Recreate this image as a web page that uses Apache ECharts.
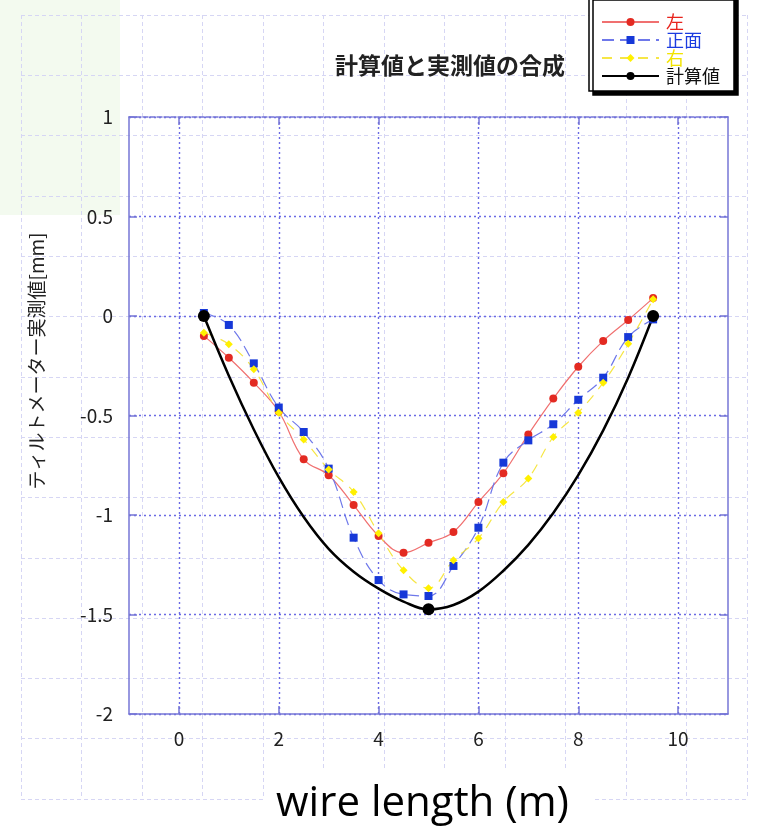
<!DOCTYPE html>
<html>
<head>
<meta charset="utf-8">
<script src="https://cdn.jsdelivr.net/npm/echarts@6/dist/echarts.min.js"></script>
<style>
html,body{margin:0;padding:0;background:#fff;}
#chart{width:770px;height:827px;}
</style>
</head>
<body>
<div id="chart"></div>
<script>
// ---- data ----
const xPositions = [0.5, 1, 1.5, 2, 2.5, 3, 3.5, 4, 4.5, 5, 5.5, 6, 6.5, 7, 7.5, 8, 8.5, 9, 9.5];
const leftValues  = [-0.10, -0.21, -0.335, -0.48, -0.72, -0.80, -0.95, -1.105, -1.19, -1.14, -1.085, -0.935, -0.79, -0.595, -0.415, -0.255, -0.125, -0.02, 0.09];
const frontValues = [0.015, -0.045, -0.238, -0.46, -0.583, -0.767, -1.114, -1.327, -1.399, -1.407, -1.256, -1.064, -0.737, -0.625, -0.544, -0.421, -0.31, -0.106, -0.017];
const rightValues = [-0.084, -0.142, -0.268, -0.486, -0.62, -0.771, -0.884, -1.092, -1.278, -1.368, -1.228, -1.117, -0.935, -0.816, -0.608, -0.486, -0.335, -0.14, 0.084];
const calcValues  = [0, -0.30, -0.57, -0.81, -1.01, -1.17, -1.285, -1.37, -1.435, -1.474, -1.452, -1.385, -1.28, -1.15, -0.99, -0.80, -0.575, -0.31, 0];
const calcMarkedX = [0.5, 5, 9.5];
const seriesNames = ['左', '正面', '右', '計算値'];
const xTickValues = [0, 2, 4, 6, 8, 10];
const yTickValues = [-2, -1.5, -1, -0.5, 0, 0.5, 1];
const titleText = '計算値と実測値の合成';
const yAxisTitle = 'ティルトメーター実測値[mm]';
const xAxisTitle = 'wire length (m)';

// ---- build ----
const pairs = vals => xPositions.map((x, i) => [x, vals[i]]);
const calcData = xPositions.map((x, i) => calcMarkedX.includes(x)
  ? { value: [x, calcValues[i]] }
  : { value: [x, calcValues[i]], symbol: 'none' });

const CJK = '"Noto Sans CJK JP", "Noto Sans CJK SC", sans-serif';
const TICKFONT = '"Noto Sans CJK JP", "DejaVu Sans", sans-serif';
const axisColor = '#7676d6';
const gridDot = { type: [2, 3], color: '#6a6ae4', width: 1.4 };
const bgDash = { type: [4, 3], color: '#d6d6f4', width: 1 };

const chart = echarts.init(document.getElementById('chart'), null, { renderer: 'canvas' });
chart.setOption({
  animation: false,
  backgroundColor: '#fff',
  title: {
    text: titleText, left: 335, top: 54, padding: 0,
    textStyle: { fontSize: 23, fontWeight: 'bold', color: '#222', fontFamily: CJK }
  },
  legend: {
    orient: 'vertical', left: 589, top: -4,
    padding: [17, 14, 6, 12],
    itemWidth: 57, itemHeight: 10, itemGap: 0,
    backgroundColor: '#fff', borderColor: '#000', borderWidth: 1.5,
    shadowColor: '#000', shadowBlur: 0, shadowOffsetX: 4, shadowOffsetY: 4,
    textStyle: { fontSize: 18, lineHeight: 18, fontFamily: CJK, padding: [0, 0, 0, 2] },
    data: [
      { name: seriesNames[0], textStyle: { color: '#e8231c' } },
      { name: seriesNames[1], textStyle: { color: '#1b3ce0' } },
      { name: seriesNames[2], textStyle: { color: '#f2e400' } },
      { name: seriesNames[3], textStyle: { color: '#111' } }
    ]
  },
  grid: [
    { left: 129, top: 117, right: 42, bottom: 113, outerBoundsMode: 'none', containLabel: false },
    { left: 21, top: 15, width: 726, height: 784, outerBoundsMode: 'none', containLabel: false }
  ],
  xAxis: [
    {
      type: 'value', gridIndex: 0, position: 'bottom', min: -1, max: 11, z: 1,
      axisLine: { show: true, onZero: false, lineStyle: { color: axisColor, width: 1.5 } },
      axisTick: { show: true, inside: true, length: 8, customValues: xTickValues, lineStyle: { color: axisColor, width: 1.5 } },
      axisLabel: { customValues: xTickValues, margin: 15, fontSize: 19, color: '#222', fontFamily: TICKFONT },
      splitLine: { show: true, lineStyle: gridDot },
      name: xAxisTitle, nameLocation: 'middle', nameGap: 57,
      nameTextStyle: { fontSize: 42, fontFamily: '"Open Sans", sans-serif', color: '#000', backgroundColor: '#fff', padding: [12, 24, 4, 12] }
    },
    {
      type: 'value', gridIndex: 0, position: 'top', min: -1, max: 11, z: 1,
      axisLine: { show: true, onZero: false, lineStyle: { color: axisColor, width: 1.5, type: [5, 2] } },
      axisTick: { show: true, inside: true, length: 8, customValues: xTickValues, lineStyle: { color: axisColor, width: 1.5 } },
      axisLabel: { show: false },
      splitLine: { show: false }
    },
    {
      type: 'value', gridIndex: 1, min: 0, max: 12, interval: 1, z: 0,
      axisLine: { show: false }, axisTick: { show: false }, axisLabel: { show: false },
      splitLine: { show: true, lineStyle: bgDash }
    }
  ],
  yAxis: [
    {
      type: 'value', gridIndex: 0, position: 'left', min: yTickValues[0], max: yTickValues[yTickValues.length - 1], interval: 0.5, z: 1,
      axisLine: { show: true, onZero: false, lineStyle: { color: axisColor, width: 1.5 } },
      axisTick: { show: true, inside: true, length: 8, lineStyle: { color: axisColor, width: 1.5 } },
      axisLabel: { margin: 16, fontSize: 19, color: '#222', fontFamily: TICKFONT },
      splitLine: { show: true, lineStyle: gridDot }
    },
    {
      type: 'value', gridIndex: 0, position: 'right', min: yTickValues[0], max: yTickValues[yTickValues.length - 1], interval: 0.5, z: 1,
      axisLine: { show: true, onZero: false, lineStyle: { color: axisColor, width: 1.5 } },
      axisTick: { show: true, inside: true, length: 8, lineStyle: { color: axisColor, width: 1.5 } },
      axisLabel: { show: false },
      splitLine: { show: false }
    },
    {
      type: 'value', gridIndex: 1, min: 0, max: 13, interval: 1, z: 0,
      axisLine: { show: false }, axisTick: { show: false }, axisLabel: { show: false },
      splitLine: { show: true, lineStyle: bgDash }
    }
  ],
  graphic: [
    { type: 'rect', z: -10, silent: true, shape: { x: 0, y: 0, width: 120, height: 215 }, style: { fill: '#f3faef' } },
    { type: 'text', z: 10, x: 37, y: 361, rotation: Math.PI / 2,
      style: { text: yAxisTitle, fontSize: 19, fontFamily: CJK, fill: '#222', textAlign: 'center', textVerticalAlign: 'middle' } }
  ],
  series: [
    {
      name: seriesNames[0], type: 'line', xAxisIndex: 0, yAxisIndex: 0, smooth: 0.4,
      symbol: 'circle', symbolSize: 8,
      itemStyle: { color: '#e32a22' },
      lineStyle: { color: '#f07070', width: 1.2 },
      data: pairs(leftValues)
    },
    {
      name: seriesNames[1], type: 'line', xAxisIndex: 0, yAxisIndex: 0, smooth: 0.4,
      symbol: 'rect', symbolSize: 8,
      itemStyle: { color: '#1638d8' },
      lineStyle: { color: '#6e78ea', width: 1.2, type: [12, 6] },
      data: pairs(frontValues)
    },
    {
      name: seriesNames[2], type: 'line', xAxisIndex: 0, yAxisIndex: 0, smooth: 0.4,
      symbol: 'diamond', symbolSize: 8,
      itemStyle: { color: '#fff000' },
      lineStyle: { color: '#f6e646', width: 1.2, type: [10, 8] },
      data: pairs(rightValues)
    },
    {
      name: seriesNames[3], type: 'line', xAxisIndex: 0, yAxisIndex: 0, smooth: 0.4,
      symbol: 'circle', symbolSize: 12,
      itemStyle: { color: '#000' },
      lineStyle: { color: '#000', width: 2.5 },
      data: calcData
    }
  ]
});
</script>
</body>
</html>
